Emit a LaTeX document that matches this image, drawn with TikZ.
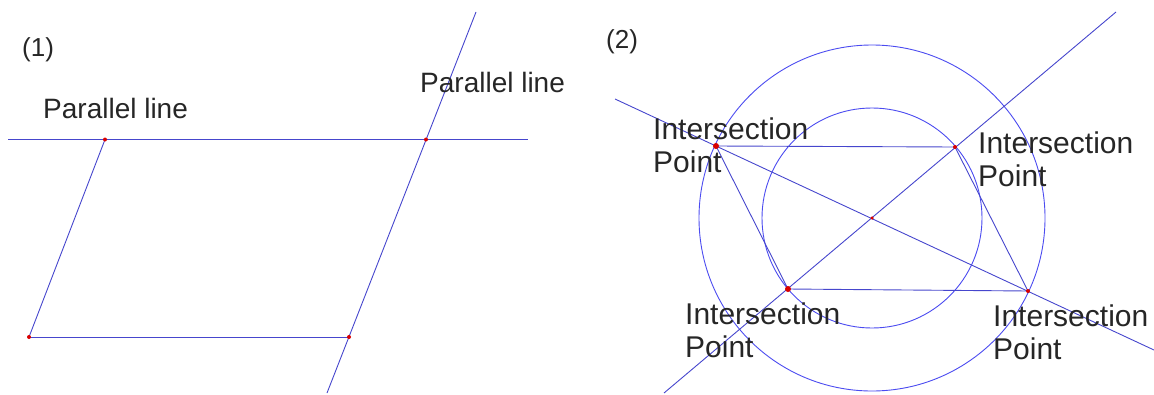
\documentclass[tikz,border=0pt]{standalone}
\usepackage{fontspec}
\setmainfont{Liberation Sans}
\usetikzlibrary{positioning}
\definecolor{lineblue}{RGB}{70,70,205}
\definecolor{ringblue}{RGB}{75,75,240}

\begin{document}
\begin{tikzpicture}[
  x=1pt, y=-1pt,
  seg/.style={draw=lineblue, line width=0.9pt},
  ring/.style={draw=ringblue, line width=0.9pt},
  dot/.style={circle, fill=red!85!black, inner sep=0pt, minimum size=4pt},
  bigdot/.style={dot, minimum size=6pt},
  lbl/.style={font=\fontsize{28}{32}\selectfont, text=black!85, inner sep=0pt, anchor=north west},
  tag/.style={lbl, font=\fontsize{26}{30}\selectfont},
  ilbl/.style={lbl, font=\fontsize{30}{32.5}\selectfont, align=left}
]
\useasboundingbox (0,0) rectangle (1154,394);

% (1) parallel lines
\node[tag] (tag1) at (22,37) {(1)};
\coordinate (topL) at (8,139.5);
\coordinate (topR) at (528,139.5);
\coordinate (slantT) at (476,12);
\coordinate (slantB) at (327,393);
\coordinate (pA) at (105,139.5);
\coordinate (pB) at (426,139.5);
\coordinate (pC) at (29,337);
\coordinate (pD) at (349,337);
\draw[seg] (topL) -- (topR);
\draw[seg] (slantT) -- (slantB);
\draw[seg] (pA) -- (pC);
\draw[seg] (pC) -- (pD);
\node[dot] (dA) at (pA) {};
\node[dot] (dB) at (pB) {};
\node[dot] (dC) at (pC) {};
\node[dot] (dD) at (pD) {};
\node[lbl] (par1) at (43,98) {Parallel line};
\node[lbl] (par2) at (420,72) {Parallel line};

% (2) two circles
\node[tag] (tag2) at (606,29) {(2)};
\coordinate (o) at (872,218);
\draw[ring] (o) circle[radius=173pt];
\draw[ring] (o) circle[radius=110pt];
\coordinate (e1) at (615,99);
\coordinate (e2) at (1154,350);
\coordinate (f1) at (1116,12);
\coordinate (f2) at (664,393);
\coordinate (q1) at (716,146);
\coordinate (q2) at (955,147);
\coordinate (q3) at (788,289);
\coordinate (q4) at (1028,291);
\draw[seg] (e1) -- (e2);
\draw[seg] (f1) -- (f2);
\draw[seg] (q1) -- (q2) -- (q4) -- (q3) -- cycle;
\node[bigdot] (d1) at (q1) {};
\node[dot] (d2) at (q2) {};
\node[bigdot] (d3) at (q3) {};
\node[dot] (d4) at (q4) {};
\node[dot, minimum size=3.5pt] (dO) at (o) {};
\node[ilbl] (int1) at (653,118) {Intersection\\Point};
\node[ilbl] (int2) at (978,132) {Intersection\\Point};
\node[ilbl] (int3) at (685,303) {Intersection\\Point};
\node[ilbl] (int4) at (993,305) {Intersection\\Point};
\end{tikzpicture}
\end{document}
